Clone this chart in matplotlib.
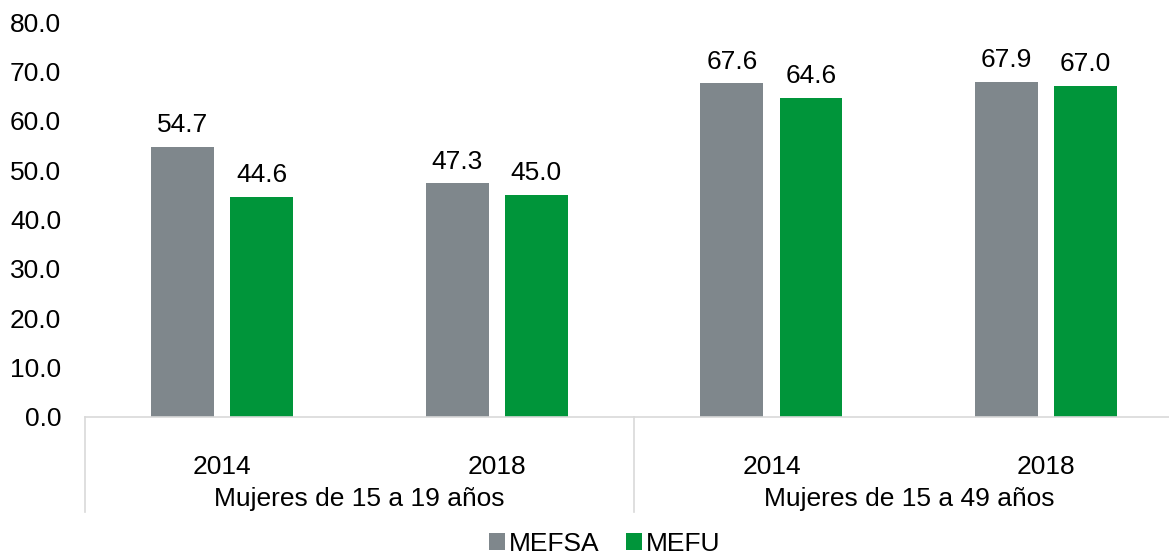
import matplotlib
matplotlib.use("Agg")
import matplotlib.pyplot as plt
import matplotlib.transforms as mtransforms
import numpy as np

plt.rcParams['font.family'] = ['Liberation Sans', 'DejaVu Sans']

years = ["2014", "2018", "2014", "2018"]
groups = ["Mujeres de 15 a 19 años", "Mujeres de 15 a 49 años"]
mefsa = [54.7, 47.3, 67.6, 67.9]
mefu = [44.6, 45.0, 64.6, 67.0]

gray = "#7F878C"
green = "#00953A"
line_col = "#D9D9D9"
fs = 19

W, H = 1169, 557
fig = plt.figure(figsize=(W / 100, H / 100), dpi=100)
ax = fig.add_axes([84.7 / W, (H - 417) / H, (1183.5 - 84.7) / W, 395 / H])

x = np.arange(len(years))
bw = 0.229
off = 0.144
b1 = ax.bar(x - off, mefsa, bw, color=gray, label="MEFSA")
b2 = ax.bar(x + off, mefu, bw, color=green, label="MEFU")

# etiquetas de valor encima de cada barra
for bars, vals in ((b1, mefsa), (b2, mefu)):
    for rect, v in zip(bars, vals):
        ax.annotate(f"{v:.1f}", (rect.get_x() + rect.get_width() / 2, v),
                    xytext=(0, 7), textcoords="offset points",
                    ha="center", va="bottom", fontsize=fs)

ax.set_xlim(-0.5, 3.5)
ax.set_ylim(0, 80)
ax.set_yticks(np.arange(0, 81, 10))
ax.set_yticklabels([f"{v:.1f}" for v in np.arange(0, 81, 10)])
ax.tick_params(axis="y", length=0, pad=17, labelsize=fs)
ax.set_xticks(x)
ax.set_xticklabels(years)
ax.tick_params(axis="x", length=0, pad=27, labelsize=fs)

for s in ("top", "right", "left"):
    ax.spines[s].set_visible(False)
ax.spines["bottom"].set_color(line_col)
ax.spines["bottom"].set_linewidth(1.2)

# separadores y etiquetas de grupo
trans = mtransforms.blended_transform_factory(ax.transData, ax.transAxes)
for xs in (-0.5, 1.5):
    ax.plot([xs, xs], [0, -0.24], color=line_col, lw=1.2,
            transform=trans, clip_on=False)
for gx, g in zip((0.5, 2.5), groups):
    ax.text(gx, -0.207, g, transform=trans, ha="center", va="center", fontsize=fs)

fig.legend(handles=[b1, b2], loc="center", bbox_to_anchor=(605 / W, 1 - 544 / H),
           ncol=2, frameon=False, fontsize=fs, handlelength=0.6, handleheight=0.6,
           handletextpad=0.15, columnspacing=1.0, borderpad=0)

fig.savefig("out.png", dpi=100)
